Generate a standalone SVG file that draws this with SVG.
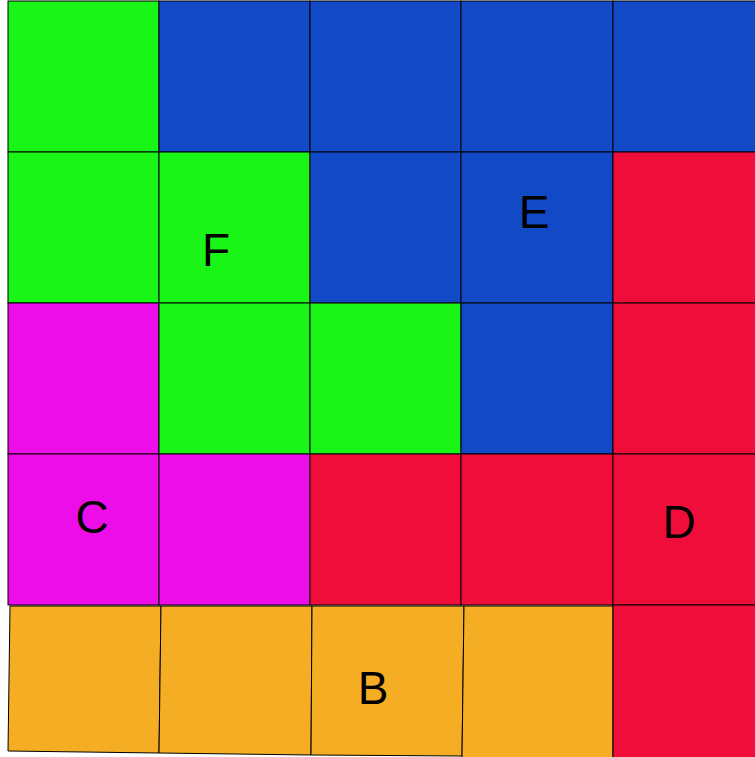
<svg xmlns="http://www.w3.org/2000/svg" width="755" height="757" viewBox="0 0 755 757">
<style>
.c{stroke:#000;stroke-width:1}
.g{fill:#19F516}.b{fill:#1249C6}.r{fill:#F00D3A}.m{fill:#EC0DE8}.o{fill:#F5AD23}
text{font-family:"Liberation Sans",Arial,sans-serif;font-size:46px;fill:#000;text-anchor:middle}
</style>
<rect width="755" height="757" fill="#fff"/>
<g id="row1">
<rect class="c g" x="8" y="1" width="151" height="151"/>
<rect class="c b" x="159" y="1" width="151" height="151"/>
<rect class="c b" x="310" y="1" width="151" height="151"/>
<rect class="c b" x="461" y="1" width="152" height="151"/>
<rect class="c b" x="613" y="1" width="143" height="151"/>
</g>
<g id="row2">
<rect class="c g" x="8" y="152" width="151" height="151"/>
<rect class="c g" x="159" y="152" width="151" height="151"/>
<rect class="c b" x="310" y="152" width="151" height="151"/>
<rect class="c b" x="461" y="152" width="152" height="151"/>
<rect class="c r" x="613" y="152" width="143" height="151"/>
</g>
<g id="row3">
<rect class="c m" x="8" y="303" width="151" height="151"/>
<rect class="c g" x="159" y="303" width="151" height="151"/>
<rect class="c g" x="310" y="303" width="151" height="151"/>
<rect class="c b" x="461" y="303" width="152" height="151"/>
<rect class="c r" x="613" y="303" width="143" height="151"/>
</g>
<g id="row4">
<rect class="c m" x="8" y="454" width="151" height="151"/>
<rect class="c m" x="159" y="454" width="151" height="151"/>
<rect class="c r" x="310" y="454" width="151" height="151"/>
<rect class="c r" x="461" y="454" width="152" height="151"/>
<rect class="c r" x="613" y="454" width="143" height="151"/>
</g>
<g id="row5">
<polygon class="c o" points="10,606 161,606 159,753 8,751"/>
<polygon class="c o" points="161,606 312,606 311,755 159,753"/>
<polygon class="c o" points="312,606 464,606 462,756 311,755"/>
<polygon class="c o" points="464,606 613,606 613,758 462,758"/>
<rect class="c r" x="613" y="605" width="143" height="153"/>
</g>
<g id="labels">
<text x="216" y="266">F</text>
<text x="534" y="228">E</text>
<text x="92" y="533">C</text>
<text x="679" y="538">D</text>
<text x="373" y="704">B</text>
</g>
</svg>
